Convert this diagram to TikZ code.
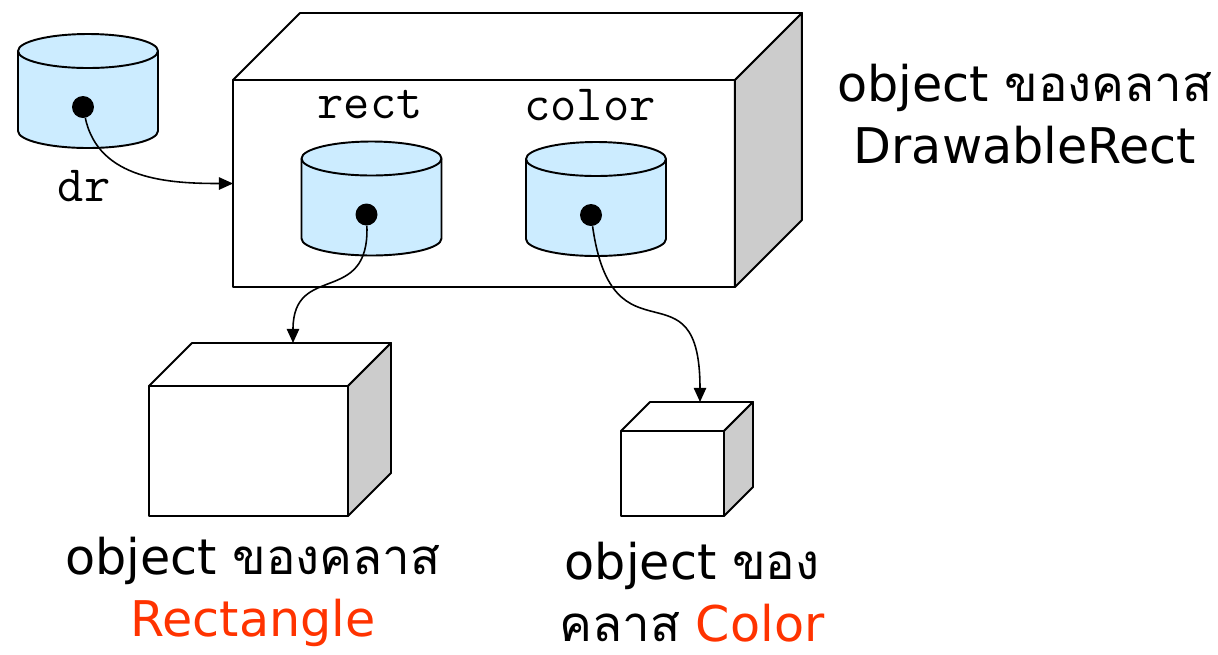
\documentclass[tikz,border=0pt]{standalone}
\usepackage{fontspec}
\setmainfont{DejaVu Sans}
\newfontfamily\thaifont[Script=Thai]{Loma}
\usetikzlibrary{arrows.meta}
\definecolor{varblue}{RGB}{204,236,255}
\definecolor{sidegray}{RGB}{204,204,204}
\definecolor{classred}{RGB}{255,51,0}
\begin{document}
\begin{tikzpicture}[
        x=0.02cm,
        y=-0.02cm,
        line join=round
    ]
    \tikzset{
        outline/.style = {line width=1.1pt, draw=black},
        face/.style = {rectangle, outline, fill=white, inner sep=0pt, outer sep=0pt},
        ptr/.style = {-{Triangle[length=8pt,width=7pt]}, line width=0.9pt},
        dot/.style = {circle, fill=black, inner sep=0pt, minimum size=0.44cm},
        varname/.style = {font=\ttfamily\fontsize{29}{32}\selectfont},
        caption/.style = {align=center, font=\fontsize{28}{35}\selectfont},
        variable/.pic = {
            \filldraw[outline, fill=varblue] (-70,-40) -- (-70,40)
                arc[start angle=180, end angle=360, x radius=1.4cm, y radius=0.34cm]
                -- (70,-40)
                arc[start angle=0, end angle=180, x radius=1.4cm, y radius=0.34cm] -- cycle;
            \draw[outline] (-70,-40) arc[start angle=180, end angle=360, x radius=1.4cm, y radius=0.34cm];
            \node[dot] (-dot) at (-5,16) {};
        },
    }
    \useasboundingbox (0,0) rectangle (1218,654);
    % object DrawableRect
    \node[face, minimum width=10.04cm, minimum height=4.14cm] (obj) at (484,183.5) {};
    \filldraw[outline, fill=white] (obj.north west) -- ++(67,-67) -- ++(502,0) -- (obj.north east) -- cycle;
    \filldraw[outline, fill=sidegray] (obj.north east) -- ++(67,-67) -- ++(0,207) -- (obj.south east) -- cycle;
    %
    \node[face, minimum width=3.98cm, minimum height=2.6cm] (rbox) at (248.5,451) {};
    \filldraw[outline, fill=white] (rbox.north west) -- ++(43,-43) -- ++(199,0) -- (rbox.north east) -- cycle;
    \filldraw[outline, fill=sidegray] (rbox.north east) -- ++(43,-43) -- ++(0,130) -- (rbox.south east) -- cycle;
    %
    \node[face, minimum width=2.06cm, minimum height=1.7cm] (cbox) at (672.5,473.5) {};
    \filldraw[outline, fill=white] (cbox.north west) -- ++(29,-29) -- ++(103,0) -- (cbox.north east) -- cycle;
    \filldraw[outline, fill=sidegray] (cbox.north east) -- ++(29,-29) -- ++(0,85) -- (cbox.south east) -- cycle;
    %
    \pic (dr) at (88,91) {variable};
    \pic (rect) at (371.5,198.5) {variable};
    \pic (color) at (596,199) {variable};
    \node[varname] (drname) at (84,186) {dr};
    \node[varname] (rectname) at (370,105) {rect};
    \node[varname] (colorname) at (590,105) {color};
    %
    \coordinate (rtip) at (293,343);
    \coordinate (ctip) at (700,402);
    \draw[ptr] (dr-dot) to[out=-78, in=180] (obj.west);
    \draw[ptr] (rect-dot) to[out=-88, in=90, looseness=1.5] (rtip);
    \draw[ptr] (color-dot) to[out=-82, in=90, looseness=1.8] (ctip);
    %
    \node[caption] (objcap) at (1025,114) {object {\thaifont ของคลาส}\\DrawableRect};
    \node[caption] (rectcap) at (253,592) {object {\thaifont ของคลาส}\\\textcolor{classred}{Rectangle}};
    \node[caption] (colorcap) at (692,592) {object {\thaifont ของ}\\{\thaifont คลาส} \textcolor{classred}{Color}};
\end{tikzpicture}
\end{document}
